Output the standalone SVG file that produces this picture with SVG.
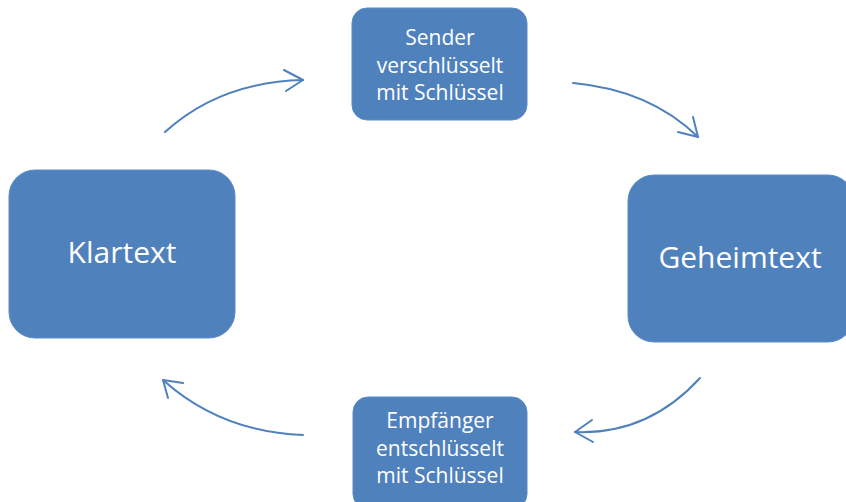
<svg xmlns="http://www.w3.org/2000/svg" width="846" height="502" viewBox="0 0 846 502">
<style>
.box{fill:#4f81bd;stroke:#5b8bc6;stroke-width:1}
.big{font-family:"Open Sans","Liberation Sans",sans-serif;font-size:30px;fill:#ffffff;text-anchor:middle}
.small{font-family:"Open Sans","Liberation Sans",sans-serif;font-size:21px;fill:#ffffff;text-anchor:middle}
.arc{fill:none;stroke:#4f81bd;stroke-width:2;stroke-linecap:round;stroke-linejoin:round}
</style>
<rect width="846" height="502" fill="#ffffff"/>
<g id="klartext">
<rect class="box" x="9" y="170" width="226" height="168" rx="26"/>
<text class="big" x="122" y="263">Klartext</text>
</g>
<g id="geheimtext">
<rect class="box" x="628" y="175" width="226" height="167" rx="26"/>
<text class="big" x="740" y="268">Geheimtext</text>
</g>
<g id="sender">
<rect class="box" x="352" y="8" width="175" height="112" rx="15"/>
<text class="small" x="440" y="45">Sender</text>
<text class="small" x="440" y="73">verschlüsselt</text>
<text class="small" x="440" y="100">mit Schlüssel</text>
</g>
<g id="empfaenger">
<rect class="box" x="353" y="397" width="174" height="112" rx="15"/>
<text class="small" x="440" y="428">Empfänger</text>
<text class="small" x="440" y="456">entschlüsselt</text>
<text class="small" x="440" y="483">mit Schlüssel</text>
</g>
<g id="connectors">
<path class="arc" d="M165,132 Q220,82 303,80"/>
<path class="arc" d="M284,70 L303,80 L286,91"/>
<path class="arc" d="M573,83 Q650,90 698,137"/>
<path class="arc" d="M678,132 L698,137 L693,117"/>
<path class="arc" d="M700,378 Q648,435 575,432"/>
<path class="arc" d="M592,420 L575,432 L593,442"/>
<path class="arc" d="M303,435 Q221,432 163,380"/>
<path class="arc" d="M183,383 L163,380 L168,398"/>
</g>
</svg>
